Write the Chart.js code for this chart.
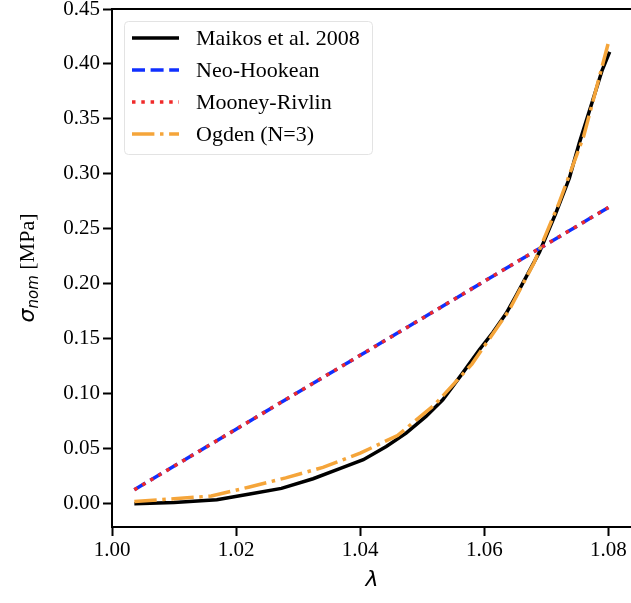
<!DOCTYPE html>
<html>
<head>
<meta charset="utf-8">
<script src="https://cdn.jsdelivr.net/npm/chart.js@4.4.1/dist/chart.umd.min.js"></script>
<style>
  html, body { margin: 0; padding: 0; background: #fff; overflow: hidden; }
  #wrap { width: 640px; height: 603px; }
</style>
</head>
<body>
<div id="wrap"><canvas id="stressChart" width="640" height="603"></canvas></div>
<script>
const maikosLambda = [1.0036, 1.0100, 1.0169, 1.0222, 1.0273, 1.0324, 1.0367, 1.0405, 1.0442, 1.0474,
  1.0506, 1.0533, 1.0565, 1.0592, 1.0614, 1.0635, 1.0651, 1.0689, 1.0715, 1.0737, 1.0753, 1.0774, 1.0790, 1.0802];
const maikosStress = [0.000, 0.001, 0.0036, 0.0088, 0.0139, 0.0227, 0.0318, 0.040, 0.052, 0.0642,
  0.0794, 0.0945, 0.1188, 0.140, 0.156, 0.173, 0.189, 0.229, 0.2640, 0.2960, 0.328, 0.3657, 0.3945, 0.411];

// model fits
const modelLambda = [1.0036, 1.020, 1.040, 1.060, 1.080];
const neoHookeanStress = [0.0127, 0.0678, 0.1350, 0.2023, 0.2695];
const mooneyRivlinStress = [0.0127, 0.0678, 0.1350, 0.2023, 0.2695];

const ogdenLambda = [1.0036, 1.010, 1.016, 1.022, 1.028, 1.034, 1.040, 1.046, 1.052, 1.058, 1.064, 1.068, 1.072, 1.076, 1.080];
const ogdenStress = [0.0021, 0.0045, 0.0070, 0.0150, 0.0235, 0.0330, 0.0460, 0.0620, 0.0900, 0.1270, 0.1760, 0.2190, 0.2730, 0.3340, 0.4194];

const xTicks = [1.00, 1.02, 1.04, 1.06, 1.08];
const yTicks = [0.00, 0.05, 0.10, 0.15, 0.20, 0.25, 0.30, 0.35, 0.40, 0.45];

const SERIF = "'Liberation Serif', 'Times New Roman', serif";
const LW = 3.5;

function toPoints(xs, ys) {
  return xs.map((x, i) => ({ x, y: ys[i] }));
}

function keepTicks(list) {
  return (scale) => {
    scale.ticks = list.map((v) => ({ value: v }));
  };
}

// legend box + axis titles + top spine
const decorations = {
  id: "decorations",
  afterDraw(chart) {
    const ctx = chart.ctx;
    const area = chart.chartArea;
    ctx.save();

    ctx.strokeStyle = "#000";
    ctx.lineWidth = 2;
    ctx.beginPath();
    ctx.moveTo(area.left - 1, area.top);
    ctx.lineTo(area.right, area.top);
    ctx.lineTo(area.right, area.bottom);
    ctx.stroke();

    // legend
    const bx = 124, by = 21, bw = 248, bh = 133, r = 4;
    ctx.fillStyle = "rgba(255,255,255,0.85)";
    ctx.strokeStyle = "#e3e3e3";
    ctx.lineWidth = 1;
    ctx.beginPath();
    ctx.roundRect(bx + 0.5, by + 0.5, bw, bh, r);
    ctx.fill();
    ctx.stroke();

    const order = [0, 1, 2, 3];
    ctx.font = "22px " + SERIF;
    ctx.textBaseline = "middle";
    order.forEach((di, row) => {
      const ds = chart.data.datasets[di];
      const y = 38 + row * 32;
      ctx.strokeStyle = ds.borderColor;
      ctx.lineWidth = ds.borderWidth;
      ctx.lineCap = "butt";
      ctx.setLineDash(ds.borderDash || []);
      ctx.beginPath();
      ctx.moveTo(132, y);
      ctx.lineTo(179, y);
      ctx.stroke();
      ctx.setLineDash([]);
      ctx.fillStyle = "#000";
      ctx.textAlign = "left";
      ctx.fillText(ds.label, 196, y + 1);
    });

    // x title
    ctx.fillStyle = "#000";
    ctx.textAlign = "center";
    ctx.textBaseline = "middle";
    ctx.font = "italic 22px 'DejaVu Sans'";
    ctx.fillText("λ", (area.left + area.right) / 2, 580);

    // y title: sigma_nom [MPa], rotated
    const fSig = "italic 22px 'DejaVu Sans'";
    const fSub = "italic 15px 'DejaVu Sans'";
    const fUnit = "22px " + SERIF;
    ctx.font = fSig; const w1 = ctx.measureText("σ").width;
    ctx.font = fSub; const w2 = ctx.measureText("nom").width;
    ctx.font = fUnit; const w3 = ctx.measureText(" [MPa]").width;
    const total = w1 + w2 + w3;
    ctx.translate(27, (area.top + area.bottom) / 2);
    ctx.rotate(-Math.PI / 2);
    ctx.textAlign = "left";
    ctx.textBaseline = "alphabetic";
    let cx = -total / 2;
    ctx.font = fSig; ctx.fillText("σ", cx, 7); cx += w1;
    ctx.font = fSub; ctx.fillText("nom", cx, 11); cx += w2;
    ctx.font = fUnit; ctx.fillText(" [MPa]", cx, 7);

    ctx.restore();
  },
};

new Chart(document.getElementById("stressChart"), {
  type: "line",
  data: {
    datasets: [
      {
        label: "Maikos et al. 2008",
        data: toPoints(maikosLambda, maikosStress),
        borderColor: "#000000",
        borderWidth: LW,
        order: 4,
      },
      {
        label: "Neo-Hookean",
        data: toPoints(modelLambda, neoHookeanStress),
        borderColor: "#1030ff",
        borderWidth: LW,
        borderDash: [13, 5.6],
        order: 3,
      },
      {
        label: "Mooney-Rivlin",
        data: toPoints(modelLambda, mooneyRivlinStress),
        borderColor: "#f02a2a",
        borderWidth: LW,
        borderDash: [3.5, 5.8],
        order: 2,
      },
      {
        label: "Ogden (N=3)",
        data: toPoints(ogdenLambda, ogdenStress),
        borderColor: "#f5a53a",
        borderWidth: LW,
        borderDash: [22.4, 5.6, 3.5, 5.6],
        order: 1,
      },
    ],
  },
  options: {
    responsive: false,
    animation: false,
    devicePixelRatio: 1,
    layout: { padding: { left: 0, right: 8, top: 9, bottom: 0 } },
    elements: {
      point: { radius: 0 },
      line: { tension: 0, fill: false, borderCapStyle: "butt" },
    },
    plugins: {
      legend: { display: false },
      tooltip: { enabled: false },
    },
    scales: {
      x: {
        type: "linear",
        min: 1.0,
        max: 1.0838,
        afterBuildTicks: keepTicks(xTicks),
        afterFit(scale) {
          scale.height = 76;
          scale.paddingLeft = 0;
          scale.paddingRight = 0;
        },
        border: { display: true, color: "#000", width: 2 },
        grid: { display: true, drawOnChartArea: false, drawTicks: true, tickLength: 9, tickWidth: 2, tickColor: "#000" },
        ticks: {
          color: "#000",
          font: { family: SERIF, size: 21 },
          padding: 2,
          maxRotation: 0,
          callback: (v) => Number(v).toFixed(2),
        },
      },
      y: {
        type: "linear",
        min: -0.0212,
        max: 0.45,
        afterBuildTicks: keepTicks(yTicks),
        afterFit(scale) {
          scale.width = 112;
          scale.paddingTop = 0;
          scale.paddingBottom = 0;
        },
        border: { display: true, color: "#000", width: 2 },
        grid: { display: true, drawOnChartArea: false, drawTicks: true, tickLength: 9, tickWidth: 2, tickColor: "#000" },
        ticks: {
          color: "#000",
          font: { family: SERIF, size: 21 },
          padding: 3,
          callback: (v) => Number(v).toFixed(2),
        },
      },
    },
  },
  plugins: [decorations],
});
</script>
</body>
</html>
